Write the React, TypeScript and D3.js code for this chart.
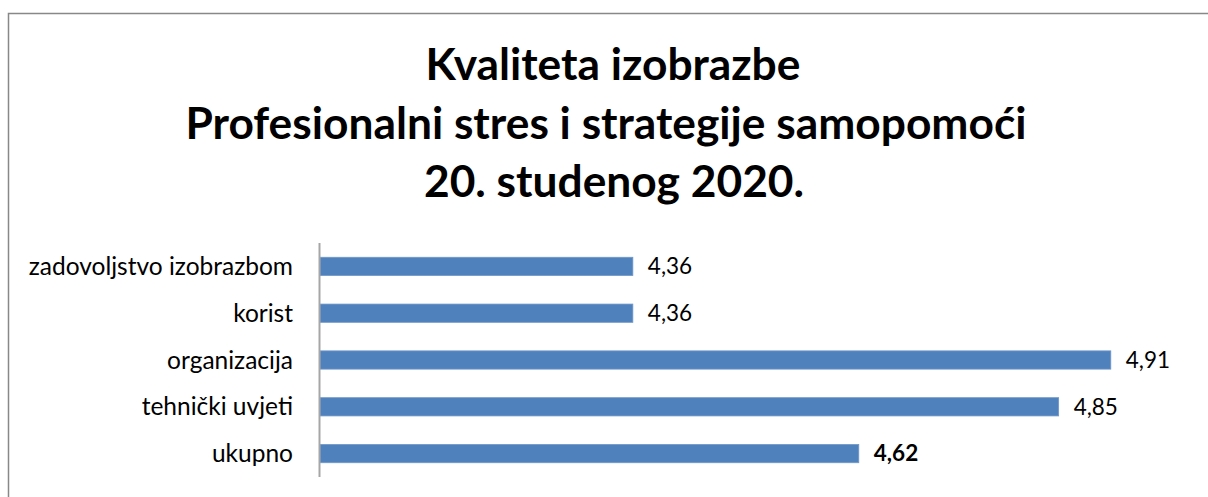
import React from "react";
import * as d3 from "d3";

const categories = [
  "zadovoljstvo izobrazbom",
  "korist",
  "organizacija",
  "tehnički uvjeti",
  "ukupno",
];
const values = [4.36, 4.36, 4.91, 4.85, 4.62];
const valueLabels = ["4,36", "4,36", "4,91", "4,85", "4,62"];
const boldLabel = [false, false, false, false, true];
const titleLines = [
  "Kvaliteta izobrazbe",
  "Profesionalni stres i strategije samopomoći",
  "20. studenog 2020.",
];
const xDomain = [4, 5];

const W = 1208;
const H = 497;
const FONT = "Lato, 'Open Sans', sans-serif";
const TITLE_X = [613, 606, 614];

export default function App() {
  const x = d3.scaleLinear().domain(xDomain).range([320, 1189]);
  const y = d3
    .scaleBand<string>()
    .domain(categories)
    .range([243, 477])
    .paddingInner(0.61)
    .paddingOuter(0.305);
  const bw = y.bandwidth();

  return (
    <div style={{ position: "absolute", left: 0, top: 0, width: W, height: H, background: "#fff" }}>
      <svg width={W} height={H} style={{ display: "block" }}>
        <rect x={0} y={0} width={W} height={H} fill="#fff" />
        {/* frame */}
        <path d={`M8.5,${H + 5} V13.5 H${W + 5}`} fill="none" stroke="#888888" strokeWidth={1.5} />
        {/* title */}
        {titleLines.map((t, i) => (
          <text
            key={i}
            x={TITLE_X[i]}
            y={80 + i * 58.5}
            textAnchor="middle"
            fontFamily={FONT}
            fontWeight={700}
            fontSize={44.3}
            fill="#000"
          >
            {t}
          </text>
        ))}
        {/* bars */}
        {categories.map((c, i) => (
          <rect
            key={c}
            x={x(xDomain[0])}
            y={y(c)!}
            width={x(values[i]) - x(xDomain[0])}
            height={bw}
            fill="#4F81BD"
            stroke="#6F97C9"
            strokeWidth={0.8}
          />
        ))}
        {/* axis line */}
        <line x1={319.5} x2={319.5} y1={243} y2={477} stroke="#A6A6A6" strokeWidth={2} />
        {/* category labels */}
        {categories.map((c) => (
          <text
            key={c}
            x={293}
            y={y(c)! + bw / 2}
            dy="0.35em"
            textAnchor="end"
            fontFamily={FONT}
            fontSize={24.5}
            fill="#000"
          >
            {c}
          </text>
        ))}
        {/* value labels */}
        {categories.map((c, i) => (
          <text
            key={c}
            x={x(values[i]) + 15}
            y={y(c)! + bw / 2}
            dy="0.35em"
            fontFamily={FONT}
            fontSize={22.5}
            fontWeight={boldLabel[i] ? 700 : 400}
            fill="#000"
          >
            {valueLabels[i]}
          </text>
        ))}
      </svg>
    </div>
  );
}
